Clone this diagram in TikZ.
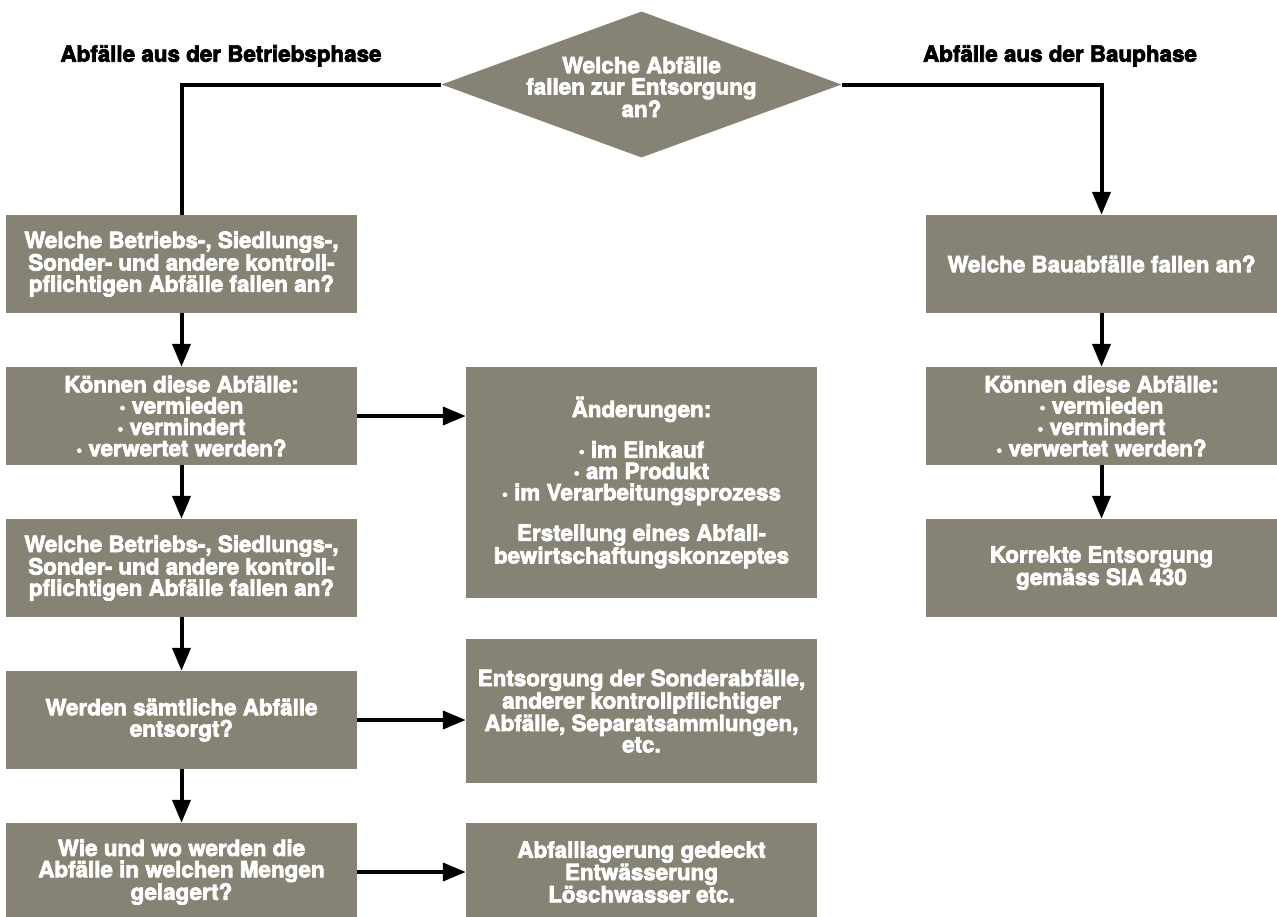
\documentclass[tikz,border=0pt]{standalone}
\usepackage{fontspec}
\usetikzlibrary{arrows.meta,shapes.geometric}
\newfontfamily\heavy[FakeBold=3.2]{TeX Gyre Heros}
\definecolor{boxgray}{RGB}{134,131,116}
\newcommand\dotitem{\raisebox{0.5pt}{\scalebox{0.75}{•}}\ }
\begin{document}
\begin{tikzpicture}[x=1pt,y=-1pt,
  txtfont/.style={font=\heavy\bfseries\fontsize{22.4}{21.3}\selectfont},
  box/.style={txtfont, fill=boxgray, text=white, align=center,
    minimum width=351pt, minimum height=98pt, inner sep=0pt},
  qshape/.style={diamond, fill=boxgray, minimum width=400pt,
    minimum height=146pt, inner sep=0pt},
  qtext/.style={txtfont, text=white, align=center, inner sep=0pt},
  heading/.style={txtfont, text=black, anchor=base, inner sep=0pt},
  conn/.style={line width=4pt},
  arr/.style={conn, -{Triangle[length=23pt,width=18pt]}}]

\useasboundingbox (0,0) rectangle (1277,916);

% decision at the top
\node[qshape] (q) at (641.5,84.5) {};
\node[qtext] (qt) at (641.5,87) {Welche Abfälle\\fallen zur Entsorgung\\an?};

% branch headings
\node[heading] (hl) at (221,61.7) {Abfälle aus der Betriebsphase};
\node[heading] (hr) at (1060,61.7) {Abfälle aus der Bauphase};

% operating phase column
\node[box] (b1) at (181.5,264) {Welche Betriebs-, Siedlungs-,\\Sonder- und andere kontroll-\\pflichtigen Abfälle fallen an?};
\node[box] (b2) at (181.5,416) {Können diese Abfälle:\\\dotitem vermieden\\\dotitem vermindert\\\dotitem verwertet werden?};
\node[box] (b3) at (181.5,568) {Welche Betriebs-, Siedlungs-,\\Sonder- und andere kontroll-\\pflichtigen Abfälle fallen an?};
\node[box] (b4) at (181.5,720) {Werden sämtliche Abfälle\\entsorgt?};
\node[box] (b5) at (181.5,872) {Wie und wo werden die\\Abfälle in welchen Mengen\\gelagert?};

% measures column
\node[box, minimum height=231pt] (m1) at (641.5,482.5) {Änderungen:\\[18pt]\dotitem im Einkauf\\\dotitem am Produkt\\\dotitem im Verarbeitungsprozess\\[18pt]Erstellung eines Abfall-\\bewirtschaftungskonzeptes};
\node[box, minimum height=144pt] (m2) at (641.5,711) {Entsorgung der Sonderabfälle,\\anderer kontrollpflichtiger\\Abfälle, Separatsammlungen,\\etc.};
\node[box] (m3) at (641.5,872) {Abfalllagerung gedeckt\\Entwässerung\\Löschwasser etc.};

% construction phase column
\node[box] (r1) at (1101.5,264) {Welche Bauabfälle fallen an?};
\node[box] (r2) at (1101.5,416) {Können diese Abfälle:\\\dotitem vermieden\\\dotitem vermindert\\\dotitem verwertet werden?};
\node[box] (r3) at (1101.5,568) {Korrekte Entsorgung\\gemäss SIA 430};

% connectors
\draw[conn] (q.west) -| (b1.north);
\draw[arr] (q.east) -| (r1.north);
\draw[arr] (b1.south) -- (b2.north);
\draw[arr] (b2.south) -- (b3.north);
\draw[arr] (b3.south) -- (b4.north);
\draw[arr] (b4.south) -- (b5.north);
\draw[arr] (b2.east) -- (b2.east -| m1.west);
\draw[arr] (b4.east) -- (b4.east -| m2.west);
\draw[arr] (b5.east) -- (b5.east -| m3.west);
\draw[arr] (r1.south) -- (r2.north);
\draw[arr] (r2.south) -- (r3.north);
\end{tikzpicture}
\end{document}
